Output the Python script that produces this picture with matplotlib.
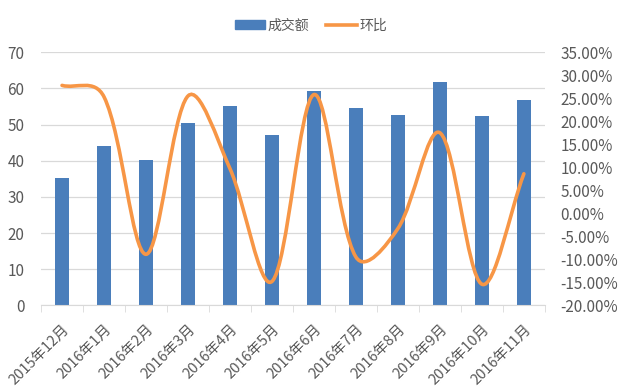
import numpy as np
import matplotlib
matplotlib.use("Agg")
import matplotlib.pyplot as plt
from matplotlib.path import Path
from matplotlib.patches import PathPatch, Patch
from matplotlib.lines import Line2D
from matplotlib.ticker import FuncFormatter, MultipleLocator

plt.rcParams["font.family"] = ["Noto Sans CJK SC", "DejaVu Sans"]
plt.rcParams["axes.unicode_minus"] = False

months = ["2015年12月", "2016年1月", "2016年2月", "2016年3月", "2016年4月", "2016年5月",
          "2016年6月", "2016年7月", "2016年8月", "2016年9月", "2016年10月", "2016年11月"]
volume = [35.3, 44.1, 40.1, 50.3, 55.2, 47.1, 59.3, 54.5, 52.7, 61.9, 52.3, 56.8]   # 成交额
mom_pct = [27.8, 25.3, -8.9, 25.5, 9.7, -14.8, 25.8, -9.5, -3.3, 17.5, -15.4, 8.6]  # 环比(%)

BLUE = "#4A7EBB"
ORANGE = "#F79646"
GRID = "#D9D9D9"
TXT = "#595959"


def smooth_path(ax, xs, ys):
    """Excel식 평활선: 화면 좌표에서 구간 길이(√) 비율로 베지어 제어점을 잡는다."""
    tr = ax.transData
    pts = tr.transform(np.column_stack([xs, ys]).astype(float))
    n = len(pts)
    cin, cout = [], []
    for i in range(n):
        a = pts[i - 1] if i > 0 else pts[i]
        b = pts[i + 1] if i < n - 1 else pts[i]
        t = b - a
        d1 = np.sqrt(np.hypot(*(pts[i] - a)))
        d2 = np.sqrt(np.hypot(*(b - pts[i])))
        tot = d1 + d2 if d1 + d2 > 0 else 1
        cin.append(pts[i] - t * d1 / tot / 3)
        cout.append(pts[i] + t * d2 / tot / 3)
    verts = [pts[0]]
    codes = [Path.MOVETO]
    for i in range(n - 1):
        verts += [cout[i], cin[i + 1], pts[i + 1]]
        codes += [Path.CURVE4] * 3
    verts = tr.inverted().transform(np.array(verts))
    return Path(verts, codes)


fig = plt.figure(figsize=(6.22, 3.90), dpi=100)
ax = fig.add_axes([0.066, 0.217, 0.810, 0.649])
x = np.arange(len(months))
ax.bar(x, volume, width=0.32, color=BLUE, zorder=2)
ax.set_xlim(-0.5, len(months) - 0.5)
ax.set_ylim(0, 70)
ax.yaxis.set_major_locator(MultipleLocator(10))
ax.grid(axis="y", color=GRID, lw=0.9, zorder=0)
ax.set_axisbelow(True)
for s in ["left", "right", "top"]:
    ax.spines[s].set_visible(False)
ax.spines["bottom"].set_color(GRID)
ax.set_xticks(x)
ax.set_xticklabels(months, rotation=45, ha="right", rotation_mode="anchor",
                   fontsize=10.5, color=TXT)
ax.set_xticks(np.arange(-0.5, len(months)), minor=True)
ax.tick_params(axis="x", which="major", length=0, pad=12)
ax.tick_params(axis="x", which="minor", length=5, color=GRID)
ax.tick_params(axis="y", length=0, pad=12, labelsize=11, labelcolor=TXT)

ax2 = ax.twinx()
ax2.set_xlim(-0.5, len(months) - 0.5)
ax2.set_ylim(-20, 35)
ax2.yaxis.set_major_locator(MultipleLocator(5))
ax2.yaxis.set_major_formatter(FuncFormatter(lambda v, _: f"{v:.2f}%"))
ax2.tick_params(axis="y", length=0, pad=11, labelsize=11, labelcolor=TXT)
for s in ax2.spines.values():
    s.set_visible(False)
ax2.add_patch(PathPatch(smooth_path(ax2, x, mom_pct), fill=False, edgecolor=ORANGE,
                        lw=2.6, capstyle="round", zorder=3))

handles = [Patch(color=BLUE), Line2D([], [], color=ORANGE, lw=2.6)]
fig.legend(handles, ["成交额", "环比"], loc="upper center", bbox_to_anchor=(0.5, 0.985),
           ncol=2, frameon=False, fontsize=10, labelcolor=TXT, handlelength=2.2,
           handleheight=0.6, handletextpad=0.2, columnspacing=1.2)

fig.savefig("out.png", dpi=100)
